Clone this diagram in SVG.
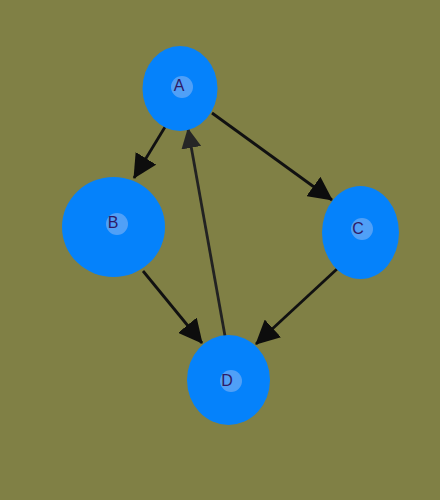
<svg xmlns="http://www.w3.org/2000/svg" width="440" height="500" viewBox="0 0 440 500">
<defs>
<marker id="arr" markerUnits="userSpaceOnUse" viewBox="0 0 24 24" refX="23" refY="12" markerWidth="24" markerHeight="24" orient="auto">
<path d="M0,0 L24,12 L0,24 z" fill="#0d0d0d"/>
</marker>
<marker id="arr2" markerUnits="userSpaceOnUse" viewBox="0 0 20 20" refX="19" refY="10" markerWidth="20" markerHeight="20" orient="auto">
<path d="M0,0 L20,10 L0,20 z" fill="#262626"/>
</marker>
</defs>
<style>
.node{fill:#0582fb}
.inner{fill:#6aaaf5;opacity:0.75}
.lbl{font-family:"Liberation Sans",Arial,sans-serif;font-size:16px;fill:#2e1a66;text-anchor:middle}
.edge{stroke:#111;stroke-width:2.8;fill:none}
</style>
<rect width="440" height="500" fill="#808045"/>
<g id="edges">
<line class="edge" x1="165" y1="127" x2="134" y2="178" marker-end="url(#arr)"/>
<line class="edge" x1="212" y1="113" x2="332" y2="200" marker-end="url(#arr)"/>
<line class="edge" x1="143" y1="271" x2="202" y2="343" marker-end="url(#arr)"/>
<line class="edge" x1="337" y1="269" x2="256" y2="344" marker-end="url(#arr)"/>
<line class="edge" x1="225" y1="336" x2="188" y2="129" marker-end="url(#arr2)" style="stroke:#222"/>
</g>
<g id="node-A">
<ellipse class="node" cx="180" cy="88.5" rx="37.5" ry="42.5"/>
<circle class="inner" cx="182" cy="87" r="11"/>
<text class="lbl" x="179" y="91">A</text>
</g>
<g id="node-B">
<ellipse class="node" cx="113.5" cy="227" rx="51.5" ry="50"/>
<circle class="inner" cx="117" cy="224" r="11"/>
<text class="lbl" x="113" y="228">B</text>
</g>
<g id="node-C">
<ellipse class="node" cx="360.5" cy="232.5" rx="38.5" ry="46.5"/>
<circle class="inner" cx="362" cy="229" r="11"/>
<text class="lbl" x="358" y="234">C</text>
</g>
<g id="node-D">
<ellipse class="node" cx="228.5" cy="380" rx="41.5" ry="45"/>
<circle class="inner" cx="231" cy="381" r="11"/>
<text class="lbl" x="227" y="386">D</text>
</g>
</svg>
